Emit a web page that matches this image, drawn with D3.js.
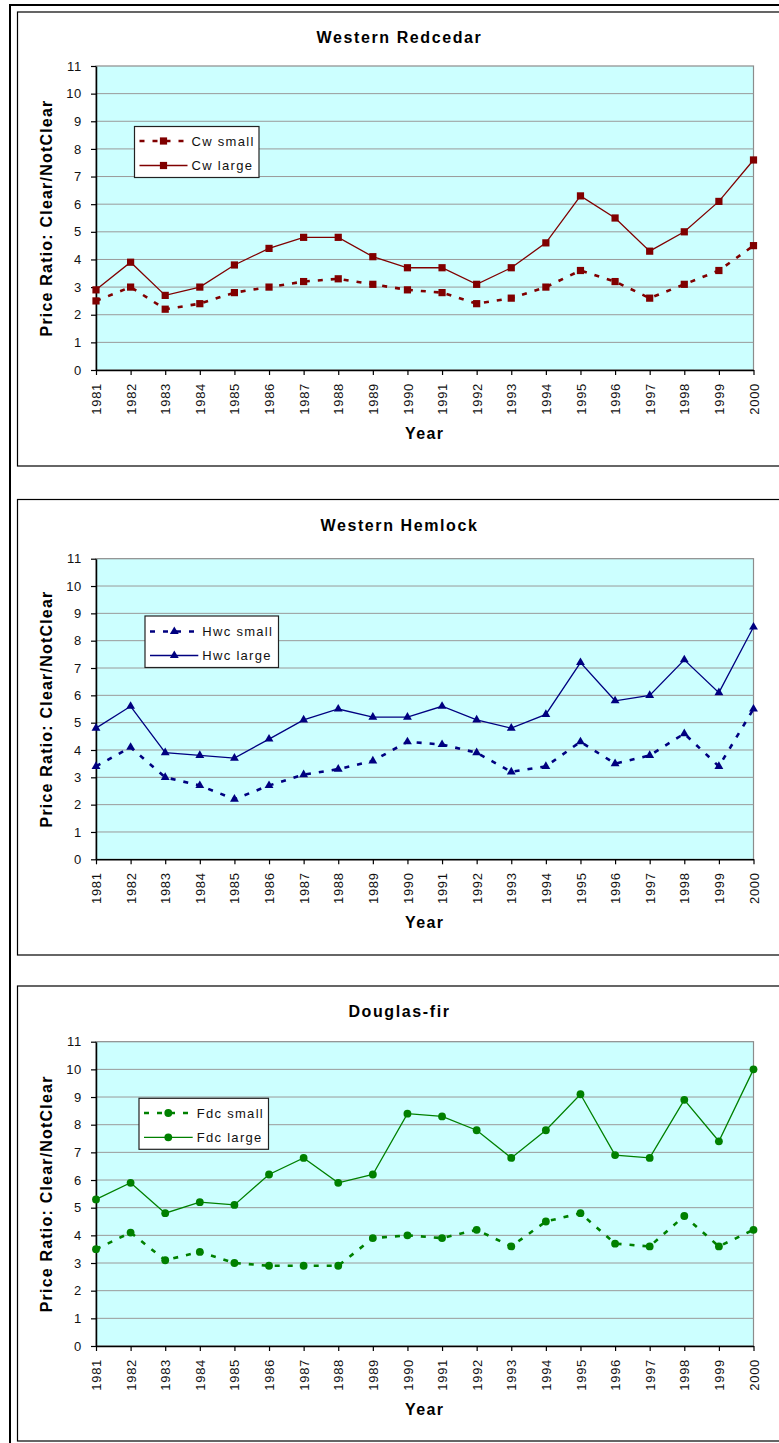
<!DOCTYPE html>
<html>
<head>
<meta charset="utf-8">
<script src="https://cdn.jsdelivr.net/npm/d3@7"></script>
<style>
  body { margin: 0; background: #fff; }
  svg { display: block; font-family: "Liberation Sans", Arial, sans-serif; }
</style>
</head>
<body>
<div id="chart"></div>
<script>
// --------------------------------------
//  Data
// --------------------------------------

const years = [1981, 1982, 1983, 1984, 1985, 1986, 1987, 1988, 1989, 1990,
               1991, 1992, 1993, 1994, 1995, 1996, 1997, 1998, 1999, 2000];

const yTicks = [0, 1, 2, 3, 4, 5, 6, 7, 8, 9, 10, 11];

const cwSmall  = [2.5, 3.0, 2.2, 2.4, 2.8, 3.0, 3.2, 3.3, 3.1, 2.9, 2.8, 2.4, 2.6, 3.0, 3.6, 3.2, 2.6, 3.1, 3.6, 4.5];
const cwLarge  = [2.9, 3.9, 2.7, 3.0, 3.8, 4.4, 4.8, 4.8, 4.1, 3.7, 3.7, 3.1, 3.7, 4.6, 6.3, 5.5, 4.3, 5.0, 6.1, 7.6];

const hwcSmall = [3.4, 4.1, 3.0, 2.7, 2.2, 2.7, 3.1, 3.3, 3.6, 4.3, 4.2, 3.9, 3.2, 3.4, 4.3, 3.5, 3.8, 4.6, 3.4, 5.5];
const hwcLarge = [4.8, 5.6, 3.9, 3.8, 3.7, 4.4, 5.1, 5.5, 5.2, 5.2, 5.6, 5.1, 4.8, 5.3, 7.2, 5.8, 6.0, 7.3, 6.1, 8.5];

const fdcSmall = [3.5, 4.1, 3.1, 3.4, 3.0, 2.9, 2.9, 2.9, 3.9, 4.0, 3.9, 4.2, 3.6, 4.5, 4.8, 3.7, 3.6, 4.7, 3.6, 4.2];
const fdcLarge = [5.3, 5.9, 4.8, 5.2, 5.1, 6.2, 6.8, 5.9, 6.2, 8.4, 8.3, 7.8, 6.8, 7.8, 9.1, 6.9, 6.8, 8.9, 7.4, 10.0];

const titles = ["Western Redcedar", "Western Hemlock", "Douglas-fir"];
const seriesNames = [["Cw small", "Cw large"], ["Hwc small", "Hwc large"], ["Fdc small", "Fdc large"]];
const yTitle = "Price Ratio: Clear/NotClear";
const xTitle = "Year";

// --------------------------------------
//  Canvas
// --------------------------------------

const width = 779, height = 1443;

const svg = d3.select("#chart")
  .append("svg")
    .attr("width", width)
    .attr("height", height)
    .attr("viewBox", [0, 0, width, height]);

// outer page frame
svg.append("line")
  .attr("x1", 10).attr("x2", 10).attr("y1", 4).attr("y2", height)
  .attr("stroke", "#000").attr("stroke-width", 2);
svg.append("line")
  .attr("x1", 9).attr("x2", width).attr("y1", 5).attr("y2", 5)
  .attr("stroke", "#000").attr("stroke-width", 2);

// layout of the three panels
const panels = [
  { top: 12,  bottom: 466,  plotTop: 66,    plotBottom: 370,
    small: cwSmall,  large: cwLarge,  color: "#800000", symbol: d3.symbolSquare,   size: 52,
    legend: { x: 134.5, y: 126.5, w: 124.5, h: 51, mx: 163.5, tx: 191.5, r1: 141, r2: 165.5 } },
  { top: 499.5, bottom: 955, plotTop: 558.7, plotBottom: 859.3,
    small: hwcSmall, large: hwcLarge, color: "#000080", symbol: d3.symbolTriangle, size: 34,
    legend: { x: 145, y: 616, w: 133.5, h: 51.5, mx: 174.3, tx: 202.3, r1: 631.5, r2: 655.5 } },
  { top: 986,   bottom: 1441, plotTop: 1041.7, plotBottom: 1346,
    small: fdcSmall, large: fdcLarge, color: "#008000", symbol: d3.symbolCircle,   size: 48,
    legend: { x: 139, y: 1098.3, w: 129.5, h: 51, mx: 168.3, tx: 196.7, r1: 1113, r2: 1137.3 } }
];

const plotLeft = 96, plotRight = 753.5;

const x = d3.scalePoint()
    .domain(years)
    .range([plotLeft, plotRight]);

panels.forEach((p, i) => {

  const g = svg.append("g");

  // panel frame
  g.append("rect")
    .attr("x", 17.5).attr("y", p.top)
    .attr("width", 800).attr("height", p.bottom - p.top)
    .attr("fill", "#fff").attr("stroke", "#000").attr("stroke-width", 1.2);

  const y = d3.scaleLinear()
      .domain([0, 11])
      .range([p.plotBottom, p.plotTop]);

  // plot area
  g.append("rect")
    .attr("x", plotLeft).attr("y", p.plotTop)
    .attr("width", plotRight - plotLeft).attr("height", p.plotBottom - p.plotTop)
    .attr("fill", "#ccffff").attr("stroke", "#8c8c8c").attr("stroke-width", 1.2);

  // grid
  g.append("g")
    .selectAll("line")
    .data(yTicks.filter(d => d > 0 && d < 11))
    .join("line")
      .attr("x1", plotLeft).attr("x2", plotRight)
      .attr("y1", d => y(d)).attr("y2", d => y(d))
      .attr("stroke", "#9a9a9a").attr("stroke-width", 1);

  // --------------------------------------
  //  Axes
  // --------------------------------------

  const yAxis = g.append("g")
    .attr("transform", `translate(${plotLeft}, 0)`)
    .call(d3.axisLeft(y).tickValues(yTicks).tickSize(5).tickSizeOuter(0).tickPadding(9));

  const xAxis = g.append("g")
    .attr("transform", `translate(0, ${p.plotBottom})`)
    .call(d3.axisBottom(x).tickSize(5).tickSizeOuter(0));

  xAxis.selectAll("text")
    .attr("transform", "rotate(-90)")
    .attr("text-anchor", "end")
    .attr("x", -13)
    .attr("y", 0)
    .attr("dy", "0.35em");

  [yAxis, xAxis].forEach(a => {
    a.select(".domain").attr("stroke", "#000").attr("stroke-width", 1.5);
    a.selectAll(".tick line").attr("stroke", "#000").attr("stroke-width", 1.2);
    a.selectAll("text")
      .attr("fill", "#111")
      .style("font-size", "13px")
      .style("letter-spacing", "0.7px")
      .style("font-family", "'Liberation Sans', Arial, sans-serif");
  });

  // --------------------------------------
  //  Titles
  // --------------------------------------

  g.append("text")
    .attr("x", 399.5).attr("y", p.top + 31)
    .attr("text-anchor", "middle")
    .style("font-size", "16px").style("font-weight", "bold").style("letter-spacing", "1.6px")
    .text(titles[i]);

  g.append("text")
    .attr("transform", `translate(51.5, ${(p.plotTop + p.plotBottom) / 2}) rotate(-90)`)
    .attr("text-anchor", "middle")
    .style("font-size", "16px").style("font-weight", "bold").style("letter-spacing", "1.2px")
    .text(yTitle);

  g.append("text")
    .attr("x", (plotLeft + plotRight) / 2).attr("y", p.plotBottom + 69)
    .attr("text-anchor", "middle")
    .style("font-size", "16px").style("font-weight", "bold").style("letter-spacing", "1.4px")
    .text(xTitle);

  // --------------------------------------
  //  Data drawing
  // --------------------------------------

  const line = d3.line()
    .x((d, j) => x(years[j]))
    .y(d => y(d));

  const series = [
    { values: p.small, dash: "5,8", width: 2.6 },
    { values: p.large, dash: null,  width: 1.3 }
  ];

  series.forEach(s => {
    g.append("path")
      .datum(s.values)
      .attr("fill", "none")
      .attr("stroke", p.color)
      .attr("stroke-width", s.width)
      .attr("stroke-dasharray", s.dash)
      .attr("d", line);

    g.append("g")
      .selectAll("path")
      .data(s.values)
      .join("path")
        .attr("transform", (d, j) => `translate(${x(years[j])}, ${y(d)})`)
        .attr("d", d3.symbol(p.symbol, p.size))
        .attr("fill", p.color);
  });

  // --------------------------------------
  //  Legend
  // --------------------------------------

  const L = p.legend;
  const lg = g.append("g");

  lg.append("rect")
    .attr("x", L.x).attr("y", L.y)
    .attr("width", L.w).attr("height", L.h)
    .attr("fill", "#fff").attr("stroke", "#222").attr("stroke-width", 1.2);

  [L.r1, L.r2].forEach((ry, k) => {
    lg.append("line")
      .attr("x1", L.x + 5).attr("x2", L.tx - 4)
      .attr("y1", ry).attr("y2", ry)
      .attr("stroke", p.color)
      .attr("stroke-width", series[k].width)
      .attr("stroke-dasharray", series[k].dash);

    lg.append("path")
      .attr("transform", `translate(${L.mx}, ${ry})`)
      .attr("d", d3.symbol(p.symbol, p.size))
      .attr("fill", p.color);

    lg.append("text")
      .attr("x", L.tx).attr("y", ry)
      .attr("dy", "0.35em")
      .style("font-size", "13px").style("letter-spacing", "1.3px")
      .attr("fill", "#111")
      .text(seriesNames[i][k]);
  });
});
</script>
</body>
</html>
